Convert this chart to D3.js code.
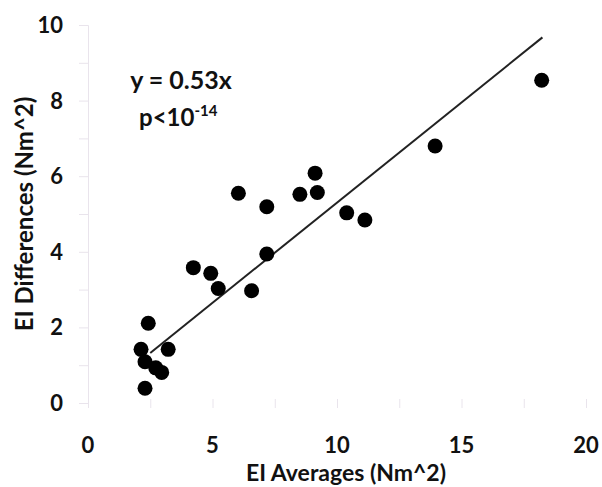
<!DOCTYPE html>
<html>
<head>
<meta charset="utf-8">
<script src="https://cdn.jsdelivr.net/npm/d3@7"></script>
<style>
  body { margin: 0; background: #fff; }
  text { font-family: Lato, "Open Sans", sans-serif; font-weight: bold; fill: #111; }
</style>
</head>
<body>
<svg id="chart" width="602" height="487"></svg>
<script>
// EI averages (x) and EI differences (y), Nm^2
const xVals = [2.42, 2.13, 3.22, 2.29, 2.72, 2.96, 2.29, 4.23, 4.93, 5.23, 6.57, 7.18,
  6.04, 7.18, 8.51, 9.12, 9.21, 10.39, 11.12, 13.94, 18.22];
const yVals = [2.11, 1.42, 1.42, 1.09, 0.93, 0.81, 0.39, 3.58, 3.43, 3.03, 2.97, 3.94,
  5.55, 5.19, 5.52, 6.08, 5.57, 5.03, 4.84, 6.80, 8.54];
const xTicks = [0, 5, 10, 15, 20];
const yTicks = [0, 2, 4, 6, 8, 10];
const slope = 0.53;
const fitRange = [2.5, 18.25];

const svg = d3.select('#chart');
const x = d3.scaleLinear().domain([0, 20]).range([88, 586]);
const y = d3.scaleLinear().domain([0, 10]).range([403, 25]);
const faint = '#e9e4ec';

// faint y axis with minor ticks every 1
svg.append('g')
  .attr('transform', 'translate(88,0)')
  .call(d3.axisLeft(y).ticks(10).tickSize(9).tickFormat(''))
  .call(g => g.selectAll('path,line').attr('stroke', faint));

// faint x ticks every 2.5
svg.append('g')
  .attr('transform', 'translate(0,399)')
  .call(d3.axisBottom(x).tickValues(d3.range(0, 20.1, 2.5)).tickSize(9).tickSizeOuter(0).tickFormat(''))
  .call(g => g.select('.domain').remove())
  .call(g => g.selectAll('line').attr('stroke', faint));

// tick labels
svg.append('g').selectAll('text')
  .data(yTicks)
  .join('text')
  .attr('x', 63)
  .attr('y', d => y(d))
  .attr('dy', '0.36em')
  .attr('text-anchor', 'end')
  .attr('font-size', 22)
  .text(d => d);

svg.append('g').selectAll('text')
  .data(xTicks)
  .join('text')
  .attr('x', d => x(d))
  .attr('y', 453)
  .attr('text-anchor', 'middle')
  .attr('font-size', 22)
  .text(d => d);

// axis titles
svg.append('text')
  .attr('x', 346)
  .attr('y', 481)
  .attr('text-anchor', 'middle')
  .attr('font-size', 23)
  .text('EI Averages (Nm^2)');

svg.append('text')
  .attr('transform', 'translate(33,214) rotate(-90)')
  .attr('text-anchor', 'middle')
  .attr('font-size', 24)
  .text('EI Differences (Nm^2)');

// fit line
svg.append('line')
  .attr('x1', x(fitRange[0]))
  .attr('y1', y(slope * fitRange[0]))
  .attr('x2', x(fitRange[1]))
  .attr('y2', y(slope * fitRange[1]))
  .attr('stroke', '#222')
  .attr('stroke-width', 2);

// points
svg.append('g').selectAll('circle')
  .data(xVals.map((v, i) => [v, yVals[i]]))
  .join('circle')
  .attr('cx', d => x(d[0]))
  .attr('cy', d => y(d[1]))
  .attr('r', 7.5)
  .attr('fill', '#000');

// equation
svg.append('text')
  .attr('x', 181)
  .attr('y', 89)
  .attr('text-anchor', 'middle')
  .attr('font-size', 25)
  .text('y = 0.53x');

const p = svg.append('text')
  .attr('x', 139)
  .attr('y', 126)
  .attr('font-size', 24);
p.append('tspan').text('p<10');
p.append('tspan').attr('dy', -10).attr('font-size', 15).text('-14');
</script>
</body>
</html>
